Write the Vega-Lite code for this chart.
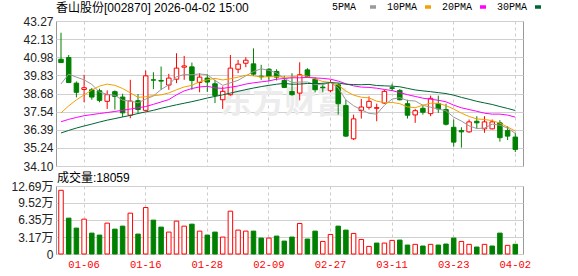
{
  "$schema": "https://vega.github.io/schema/vega-lite/v6.json",
  "background": "#ffffff",
  "padding": {"left": 0, "top": 2, "right": 0, "bottom": 0},
  "spacing": -2,
  "config": {
    "font": "Liberation Sans",
    "view": {"stroke": "#999999", "strokeWidth": 1},
    "axis": {"ticks": false, "domain": false, "labelFont": "Liberation Sans", "labelFontSize": 12, "labelColor": "#222222", "gridColor": "#d0d0d0", "gridWidth": 1, "labelPadding": 3, "labelOverlap": false, "labelFlush": false}
  },
  "data": {"values": [
    {"d":"2025-12-30","o":40.85,"h":42.53,"l":40.62,"c":40.64,"v":11.89,"up":true,"ma5":39.29,"ma10":37.46,"ma20":36.90,"ma30":36.19},
    {"d":"2025-12-31","o":40.96,"h":41.12,"l":39.34,"c":39.38,"v":6.69,"up":false,"ma5":39.91,"ma10":37.90,"ma20":37.05,"ma30":36.35},
    {"d":"2026-01-05","o":39.34,"h":39.45,"l":38.44,"c":38.76,"v":4.83,"up":false,"ma5":39.72,"ma10":38.28,"ma20":37.17,"ma30":36.50},
    {"d":"2026-01-06","o":38.94,"h":39.87,"l":38.13,"c":39.05,"v":6.50,"up":true,"ma5":39.55,"ma10":38.60,"ma20":37.28,"ma30":36.63},
    {"d":"2026-01-07","o":38.92,"h":39.03,"l":38.29,"c":38.46,"v":3.90,"up":false,"ma5":39.26,"ma10":38.90,"ma20":37.35,"ma30":36.75},
    {"d":"2026-01-08","o":38.86,"h":38.99,"l":38.13,"c":38.25,"v":3.53,"up":false,"ma5":38.78,"ma10":39.15,"ma20":37.42,"ma30":36.88},
    {"d":"2026-01-09","o":38.19,"h":38.88,"l":37.71,"c":38.61,"v":5.76,"up":true,"ma5":38.63,"ma10":39.28,"ma20":37.48,"ma30":37.00},
    {"d":"2026-01-12","o":38.80,"h":38.88,"l":37.67,"c":38.50,"v":4.64,"up":false,"ma5":38.57,"ma10":39.20,"ma20":37.55,"ma30":37.10},
    {"d":"2026-01-13","o":38.46,"h":38.67,"l":37.20,"c":37.46,"v":5.20,"up":false,"ma5":38.26,"ma10":39.00,"ma20":37.62,"ma30":37.20},
    {"d":"2026-01-14","o":37.31,"h":39.55,"l":37.12,"c":38.21,"v":7.62,"up":true,"ma5":38.21,"ma10":38.73,"ma20":37.70,"ma30":37.30},
    {"d":"2026-01-15","o":38.23,"h":38.65,"l":37.46,"c":37.67,"v":3.72,"up":false,"ma5":38.09,"ma10":38.44,"ma20":37.78,"ma30":37.42},
    {"d":"2026-01-16","o":37.62,"h":40.14,"l":37.56,"c":39.80,"v":8.67,"up":true,"ma5":38.33,"ma10":38.48,"ma20":37.86,"ma30":37.52},
    {"d":"2026-01-19","o":39.55,"h":40.03,"l":38.96,"c":39.53,"v":6.32,"up":false,"ma5":38.53,"ma10":38.55,"ma20":38.00,"ma30":37.62},
    {"d":"2026-01-20","o":39.51,"h":40.39,"l":38.92,"c":39.47,"v":5.02,"up":false,"ma5":38.94,"ma10":38.60,"ma20":38.15,"ma30":37.75},
    {"d":"2026-01-21","o":39.22,"h":39.93,"l":38.92,"c":39.66,"v":4.09,"up":true,"ma5":39.23,"ma10":38.72,"ma20":38.30,"ma30":37.86},
    {"d":"2026-01-22","o":39.59,"h":41.23,"l":39.34,"c":40.29,"v":6.13,"up":true,"ma5":39.75,"ma10":38.92,"ma20":38.60,"ma30":37.97},
    {"d":"2026-01-23","o":40.35,"h":41.06,"l":39.55,"c":40.43,"v":5.20,"up":true,"ma5":39.88,"ma10":39.10,"ma20":38.85,"ma30":38.07},
    {"d":"2026-01-26","o":40.37,"h":40.64,"l":38.92,"c":39.51,"v":5.57,"up":false,"ma5":39.87,"ma10":39.20,"ma20":39.00,"ma30":38.17},
    {"d":"2026-01-27","o":39.38,"h":39.97,"l":38.76,"c":39.72,"v":4.27,"up":true,"ma5":39.92,"ma10":39.43,"ma20":39.10,"ma30":38.28},
    {"d":"2026-01-28","o":39.66,"h":39.93,"l":38.78,"c":39.41,"v":3.53,"up":false,"ma5":39.87,"ma10":39.55,"ma20":39.14,"ma30":38.40},
    {"d":"2026-01-29","o":39.30,"h":39.55,"l":38.08,"c":38.55,"v":4.09,"up":false,"ma5":39.52,"ma10":39.64,"ma20":39.04,"ma30":38.50},
    {"d":"2026-01-30","o":38.29,"h":39.13,"l":37.71,"c":38.82,"v":3.16,"up":true,"ma5":39.20,"ma10":39.54,"ma20":39.01,"ma30":38.60},
    {"d":"2026-02-02","o":38.61,"h":41.12,"l":38.55,"c":40.29,"v":7.99,"up":true,"ma5":39.36,"ma10":39.62,"ma20":39.08,"ma30":38.71},
    {"d":"2026-02-03","o":40.22,"h":40.81,"l":39.97,"c":40.54,"v":4.46,"up":true,"ma5":39.52,"ma10":39.72,"ma20":39.16,"ma30":38.82},
    {"d":"2026-02-04","o":40.60,"h":40.98,"l":40.35,"c":40.79,"v":4.27,"up":true,"ma5":39.80,"ma10":39.84,"ma20":39.28,"ma30":38.93},
    {"d":"2026-02-05","o":40.56,"h":41.54,"l":39.80,"c":39.91,"v":4.27,"up":false,"ma5":40.07,"ma10":39.80,"ma20":39.36,"ma30":39.03},
    {"d":"2026-02-06","o":39.78,"h":40.50,"l":39.55,"c":39.74,"v":2.97,"up":false,"ma5":40.25,"ma10":39.73,"ma20":39.42,"ma30":39.12},
    {"d":"2026-02-09","o":40.22,"h":40.29,"l":39.45,"c":39.76,"v":2.97,"up":true,"ma5":40.15,"ma10":39.75,"ma20":39.48,"ma30":39.20},
    {"d":"2026-02-10","o":40.08,"h":40.22,"l":39.51,"c":39.72,"v":3.34,"up":false,"ma5":39.98,"ma10":39.75,"ma20":39.59,"ma30":39.27},
    {"d":"2026-02-11","o":39.51,"h":39.80,"l":39.03,"c":39.07,"v":2.41,"up":false,"ma5":39.64,"ma10":39.72,"ma20":39.63,"ma30":39.33},
    {"d":"2026-02-12","o":38.82,"h":39.97,"l":38.55,"c":38.61,"v":3.16,"up":false,"ma5":39.38,"ma10":39.73,"ma20":39.68,"ma30":39.27},
    {"d":"2026-02-13","o":38.71,"h":40.66,"l":38.25,"c":39.87,"v":5.70,"up":true,"ma5":39.41,"ma10":39.83,"ma20":39.68,"ma30":39.28},
    {"d":"2026-02-24","o":40.18,"h":40.29,"l":39.70,"c":39.76,"v":2.79,"up":false,"ma5":39.41,"ma10":39.78,"ma20":39.70,"ma30":39.32},
    {"d":"2026-02-25","o":39.59,"h":39.72,"l":38.76,"c":38.92,"v":4.27,"up":false,"ma5":39.25,"ma10":39.62,"ma20":39.67,"ma30":39.31},
    {"d":"2026-02-26","o":39.09,"h":39.34,"l":38.76,"c":39.05,"v":2.35,"up":true,"ma5":39.24,"ma10":39.44,"ma20":39.64,"ma30":39.33},
    {"d":"2026-02-27","o":38.86,"h":39.55,"l":38.76,"c":39.38,"v":3.65,"up":true,"ma5":39.40,"ma10":39.39,"ma20":39.59,"ma30":39.37},
    {"d":"2026-03-02","o":39.24,"h":39.34,"l":37.35,"c":38.04,"v":5.20,"up":false,"ma5":39.03,"ma10":39.22,"ma20":39.47,"ma30":39.35},
    {"d":"2026-03-03","o":37.92,"h":38.29,"l":35.93,"c":35.99,"v":4.46,"up":false,"ma5":38.28,"ma10":38.84,"ma20":39.30,"ma30":39.27},
    {"d":"2026-03-04","o":35.82,"h":37.35,"l":35.74,"c":37.08,"v":3.84,"up":true,"ma5":37.91,"ma10":38.58,"ma20":39.17,"ma30":39.25},
    {"d":"2026-03-05","o":37.60,"h":38.34,"l":37.10,"c":37.83,"v":2.72,"up":true,"ma5":37.66,"ma10":38.45,"ma20":39.09,"ma30":39.24},
    {"d":"2026-03-06","o":37.81,"h":38.50,"l":37.67,"c":38.19,"v":1.42,"up":true,"ma5":37.43,"ma10":38.41,"ma20":39.07,"ma30":39.26},
    {"d":"2026-03-09","o":37.75,"h":38.04,"l":36.93,"c":37.79,"v":2.04,"up":false,"ma5":37.38,"ma10":38.20,"ma20":39.02,"ma30":39.19},
    {"d":"2026-03-10","o":38.08,"h":38.92,"l":38.04,"c":38.82,"v":2.04,"up":true,"ma5":37.94,"ma10":38.11,"ma20":38.94,"ma30":39.17},
    {"d":"2026-03-11","o":39.05,"h":39.30,"l":38.86,"c":39.01,"v":2.54,"up":true,"ma5":38.33,"ma10":38.12,"ma20":38.87,"ma30":39.15},
    {"d":"2026-03-12","o":38.88,"h":38.96,"l":38.25,"c":38.29,"v":2.60,"up":false,"ma5":38.42,"ma10":38.04,"ma20":38.74,"ma30":39.11},
    {"d":"2026-03-13","o":38.04,"h":38.29,"l":37.10,"c":37.31,"v":1.67,"up":false,"ma5":38.24,"ma10":37.84,"ma20":38.61,"ma30":39.01},
    {"d":"2026-03-16","o":37.33,"h":37.71,"l":36.83,"c":37.60,"v":1.80,"up":true,"ma5":38.21,"ma10":37.79,"ma20":38.50,"ma30":38.91},
    {"d":"2026-03-17","o":37.75,"h":37.98,"l":37.35,"c":37.50,"v":1.49,"up":false,"ma5":37.94,"ma10":37.94,"ma20":38.39,"ma30":38.85},
    {"d":"2026-03-18","o":37.41,"h":38.55,"l":37.25,"c":38.38,"v":1.80,"up":true,"ma5":37.82,"ma10":38.07,"ma20":38.32,"ma30":38.80},
    {"d":"2026-03-19","o":38.04,"h":38.55,"l":37.46,"c":37.71,"v":1.67,"up":false,"ma5":37.70,"ma10":38.06,"ma20":38.26,"ma30":38.74},
    {"d":"2026-03-20","o":37.67,"h":38.04,"l":36.66,"c":36.74,"v":1.86,"up":false,"ma5":37.59,"ma10":37.92,"ma20":38.16,"ma30":38.68},
    {"d":"2026-03-23","o":36.55,"h":37.04,"l":35.32,"c":35.61,"v":2.97,"up":false,"ma5":37.19,"ma10":37.70,"ma20":37.95,"ma30":38.58},
    {"d":"2026-03-24","o":36.34,"h":36.55,"l":35.26,"c":36.26,"v":2.35,"up":true,"ma5":36.94,"ma10":37.44,"ma20":37.78,"ma30":38.44},
    {"d":"2026-03-25","o":36.26,"h":37.04,"l":36.20,"c":36.89,"v":1.80,"up":true,"ma5":36.64,"ma10":37.23,"ma20":37.67,"ma30":38.32},
    {"d":"2026-03-26","o":36.93,"h":37.25,"l":36.45,"c":36.83,"v":1.30,"up":false,"ma5":36.47,"ma10":37.08,"ma20":37.56,"ma30":38.19},
    {"d":"2026-03-27","o":36.45,"h":37.25,"l":36.20,"c":36.89,"v":1.80,"up":true,"ma5":36.50,"ma10":37.04,"ma20":37.44,"ma30":38.09},
    {"d":"2026-03-30","o":36.45,"h":37.04,"l":36.41,"c":36.89,"v":1.49,"up":false,"ma5":36.75,"ma10":36.97,"ma20":37.38,"ma30":37.99},
    {"d":"2026-03-31","o":36.83,"h":37.00,"l":35.64,"c":35.89,"v":3.90,"up":false,"ma5":36.68,"ma10":36.81,"ma20":37.38,"ma30":37.86},
    {"d":"2026-04-01","o":36.34,"h":36.62,"l":35.74,"c":35.99,"v":1.61,"up":true,"ma5":36.50,"ma10":36.57,"ma20":37.32,"ma30":37.74},
    {"d":"2026-04-02","o":35.93,"h":36.20,"l":34.98,"c":35.15,"v":1.81,"up":false,"ma5":36.16,"ma10":36.31,"ma20":37.19,"ma30":37.61}
  ]},
  "vconcat": [
    {
      "width": 467,
      "height": 145,
      "encoding": {
        "x": {"field": "d", "type": "ordinal", "bandPosition": 0.5, "title": null,
          "scale": {"type": "band", "paddingInner": 0, "paddingOuter": 0.325, "align": 0.23},
          "axis": {"values": ["2026-01-06","2026-01-16","2026-01-28","2026-02-09","2026-02-27","2026-03-11","2026-03-23","2026-04-02"], "labels": false, "grid": true, "gridDash": [3, 3], "gridColor": "#cccccc", "bandPosition": 0.5, "minExtent": 0, "maxExtent": 0, "title": null}}
      },
      "layer": [
        {
          "transform": [{"filter": "datum.d == '2026-02-11'"}],
          "mark": {"type": "text", "text": "东方财富", "font": "Noto Sans CJK SC", "fontSize": 32, "fontWeight": "bold", "color": "#ececec"},
          "encoding": {
            "y": {"datum": 38.1, "type": "quantitative", "title": null, "scale": {"domain": [34.10, 43.27], "nice": false, "zero": false},
              "axis": {"values": [34.10, 35.24, 36.39, 37.54, 38.68, 39.83, 40.98, 42.13, 43.27], "format": ".2f", "grid": true, "minExtent": 55, "maxExtent": 55, "labelFlush": false, "labelOverlap": false, "title": null}}
          }
        },
        {
          "mark": {"type": "rule", "strokeWidth": 1},
          "encoding": {
            "y": {"field": "l", "type": "quantitative", "title": null, "scale": {"domain": [34.10, 43.27], "nice": false, "zero": false},
              "axis": {"values": [34.10, 35.24, 36.39, 37.54, 38.68, 39.83, 40.98, 42.13, 43.27], "format": ".2f", "grid": true, "minExtent": 55, "maxExtent": 55, "labelFlush": false, "labelOverlap": false, "title": null}},
            "y2": {"field": "h"},
            "stroke": {"condition": {"test": "datum.c >= datum.o", "value": "#ff0000"}, "value": "#008000"}
          }
        },
        {
          "mark": {"type": "bar", "width": 4.5, "strokeWidth": 1},
          "encoding": {
            "y": {"field": "o", "type": "quantitative", "title": null, "scale": {"domain": [34.10, 43.27], "nice": false, "zero": false},
              "axis": {"values": [34.10, 35.24, 36.39, 37.54, 38.68, 39.83, 40.98, 42.13, 43.27], "format": ".2f", "grid": true, "minExtent": 55, "maxExtent": 55, "labelFlush": false, "labelOverlap": false, "title": null}},
            "y2": {"field": "c"},
            "fill": {"condition": {"test": "datum.c >= datum.o", "value": "#ffffff"}, "value": "#008000"},
            "stroke": {"condition": {"test": "datum.c >= datum.o", "value": "#ff0000"}, "value": "#008000"}
          }
        },
        {
          "transform": [{"fold": ["ma5", "ma10", "ma20", "ma30"], "as": ["key", "value"]}],
          "mark": {"type": "line", "strokeWidth": 1},
          "encoding": {
            "y": {"field": "value", "type": "quantitative", "title": null, "scale": {"domain": [34.10, 43.27], "nice": false, "zero": false},
              "axis": {"values": [34.10, 35.24, 36.39, 37.54, 38.68, 39.83, 40.98, 42.13, 43.27], "format": ".2f", "grid": true, "minExtent": 55, "maxExtent": 55, "labelFlush": false, "labelOverlap": false, "title": null}},
            "color": {"field": "key", "type": "nominal",
              "scale": {"domain": ["ma5", "ma10", "ma20", "ma30"], "range": ["#9a9a9a", "#f5a000", "#ff00ff", "#006633"]},
              "legend": {
                "orient": "none", "legendX": 0, "legendY": -19, "direction": "horizontal",
                "title": "香山股份[002870] 2026-04-02 15:00", "titleOrient": "left", "titleLimit": 400,
                "titleFont": "Liberation Sans, Noto Sans CJK SC", "titleFontSize": 12, "titleFontWeight": "normal", "titleColor": "#000000", "titlePadding": 88,
                "labelExpr": "{'ma5':'\u00a05PMA','ma10':'10PMA','ma20':'20PMA','ma30':'30PMA'}[datum.label]",
                "labelFont": "Liberation Mono", "labelFontSize": 10, "labelColor": "#000000", "labelLimit": 200,
                "labelOffset": -10, "symbolOffset": -5,
                "symbolType": "M11,0H13", "symbolSize": 36, "symbolStrokeWidth": 3.5,
                "columnPadding": 4, "padding": 0, "offset": 0
              }
            }
          }
        }
      ]
    },
    {
      "width": 467,
      "height": 68,
      "title": {"text": "成交量:18059", "anchor": "start", "frame": "group", "font": "Liberation Sans, Noto Sans CJK SC", "fontSize": 12, "fontWeight": "normal", "color": "#000000", "offset": -5, "dx": 1},
      "mark": {"type": "bar", "width": 4.5, "strokeWidth": 1},
      "encoding": {
        "x": {"field": "d", "type": "ordinal", "title": null,
          "scale": {"type": "band", "paddingInner": 0, "paddingOuter": 0.325, "align": 0.23},
          "axis": {"values": ["2026-01-06","2026-01-16","2026-01-28","2026-02-09","2026-02-27","2026-03-11","2026-03-23","2026-04-02"], "labelExpr": "substring(datum.label, 5)", "labelColor": "#ff0000", "labelFont": "Liberation Mono", "labelFontSize": 10.5, "labelPadding": 5, "labelAngle": 0, "grid": true, "gridDash": [3, 3], "gridColor": "#cccccc", "bandPosition": 0.5, "title": null}},
        "y": {"field": "v", "type": "quantitative", "title": null, "scale": {"domain": [0, 12.69], "nice": false, "zero": true},
          "axis": {"values": [0, 3.17, 6.35, 9.52, 12.69], "labelExpr": "datum.value == 0 ? '0' : format(datum.value, '.2f') + '万'", "labelFont": "Liberation Sans, Noto Sans CJK SC", "grid": true, "minExtent": 55, "maxExtent": 55, "labelFlush": false, "labelOverlap": false, "title": null}},
        "fill": {"condition": {"test": "datum.up", "value": "#ffffff"}, "value": "#008000"},
        "stroke": {"condition": {"test": "datum.up", "value": "#ff0000"}, "value": "#008000"}
      }
    }
  ]
}
